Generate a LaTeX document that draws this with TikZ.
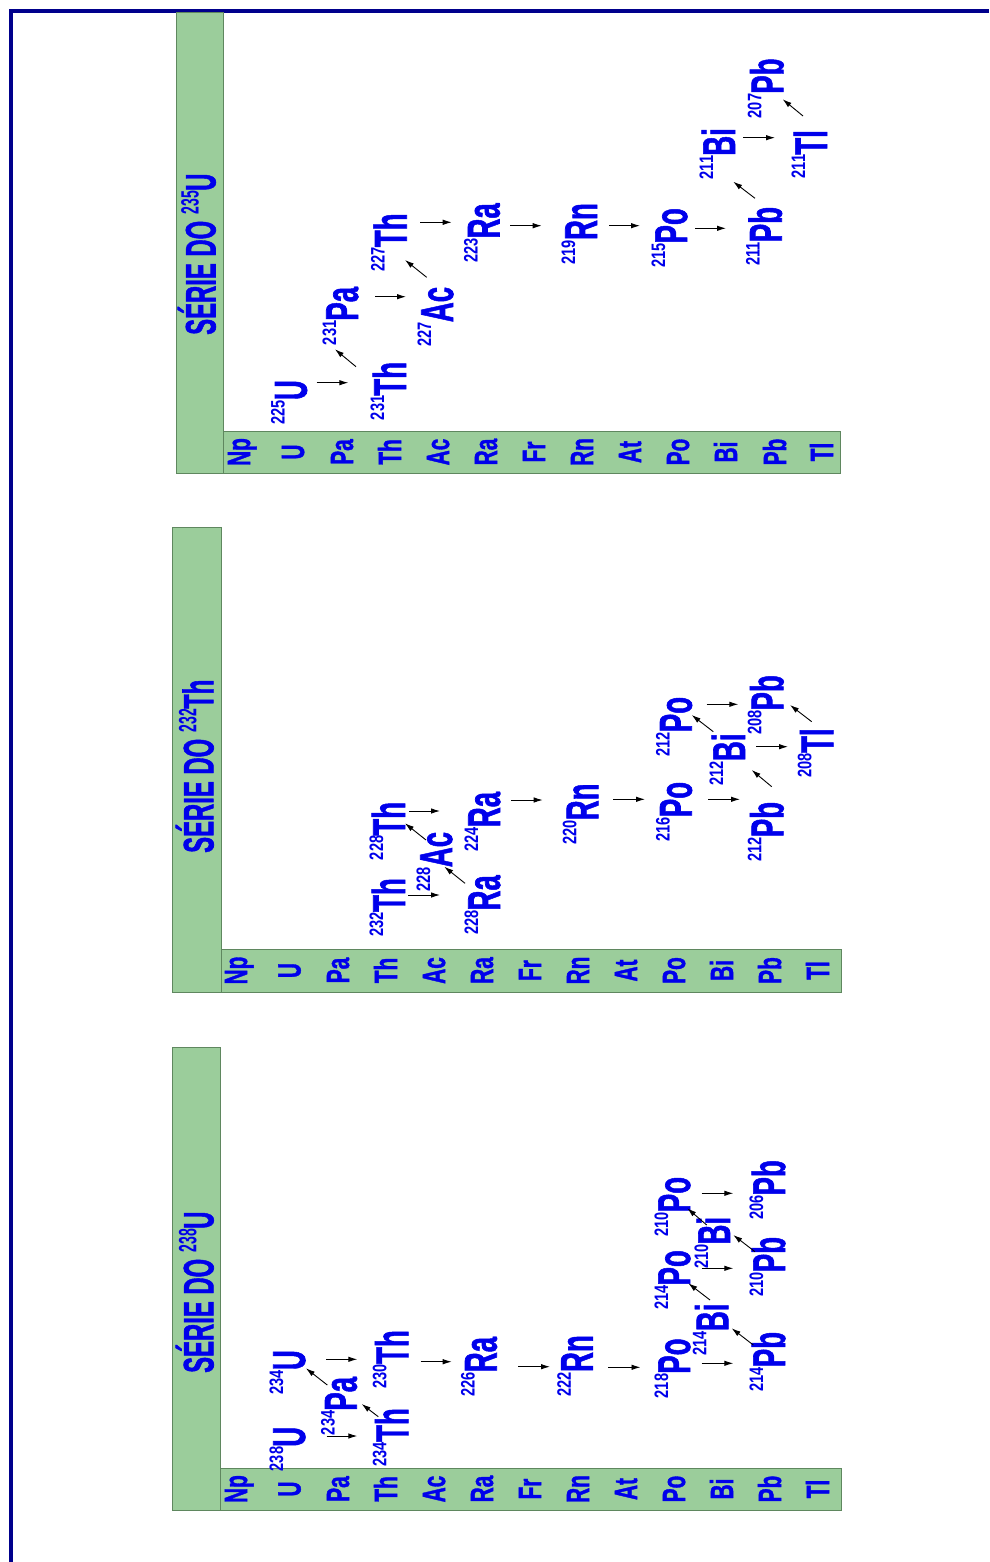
\documentclass[tikz,border=0pt]{standalone}
\usepackage{fontspec}
\setmainfont{Liberation Sans}[BoldFeatures={FakeBold=1.6}]
\newfontfamily\supfam{Liberation Sans}
\usetikzlibrary{arrows.meta,calc}
\definecolor{nblue}{RGB}{0,0,235}
\definecolor{frameblue}{RGB}{0,0,140}
\definecolor{barfill}{RGB}{155,205,155}
\definecolor{barline}{RGB}{95,135,95}
\newcommand\nucl[2]{\raisebox{22pt}{\scalebox{0.75}[1]{\supfam\bfseries\fontsize{19.5}{19.5}\selectfont #1}}\scalebox{0.6}[1]{\fontsize{46}{46}\selectfont #2}}
\newcommand\ttltext[2]{\scalebox{0.56}[1]{\fontsize{42.6}{42.6}\selectfont SÉRIE DO \raisebox{17pt}{\supfam\bfseries\fontsize{25}{25}\selectfont #1}#2}}
\newcommand\labtext[1]{\scalebox{0.65}[1]{\fontsize{32}{32}\selectfont #1}}
\tikzset{
 nuc/.style={rotate=90, anchor=base east, inner sep=0pt, text=nblue, font=\bfseries},
 lab/.style={rotate=90, anchor=base, inner sep=0pt, text=nblue, font=\bfseries},
 ttl/.style={rotate=90, anchor=base west, inner sep=0pt, text=nblue, font=\bfseries},
 bar/.style={fill=barfill, draw=barline, line width=1pt},
 arr/.style={draw=black, line width=0.9pt, -{Latex[length=9pt,width=5.5pt]}},
}
\newcommand\dk[4]{\draw[arr] ($(#1.base east)+(#2)$) -- ($(#3.base east)+(#4)$);}
\begin{document}
\begin{tikzpicture}[x=1pt,y=-1pt]
\useasboundingbox (0,0) rectangle (989,1562);
% frame
\draw[frameblue, line width=3.7pt] (10.8,1562) -- (10.8,10.8) -- (989,10.8);
% ---------- panel 1 : 235U ----------
\draw[bar] (176,13) rectangle (223,473);
\draw[bar] (223,431) rectangle (840,473);
\node[ttl] (t1) at (215.5,335) {\ttltext{235}{U}};
\foreach \e/\x [count=\i] in {Np/250,U/304,Pa/353,Th/401,Ac/449,Ra/497,Fr/545,Rn/593,At/641,Po/689,Bi/737,Pb/786,Tl/833}
  \node[lab] (p1l\i) at (\x,452) {\labtext{\e}};
\node[nuc] (p1U225) at (306.7,380) {\nucl{225}{U}};
\node[nuc] (p1Th231) at (406,361.7) {\nucl{231}{Th}};
\node[nuc] (p1Pa231) at (358,286.7) {\nucl{231}{Pa}};
\node[nuc] (p1Ac227) at (453,286.7) {\nucl{227}{Ac}};
\node[nuc] (p1Th227) at (406.7,213.3) {\nucl{227}{Th}};
\node[nuc] (p1Ra223) at (499.6,203) {\nucl{223}{Ra}};
\node[nuc] (p1Rn219) at (597,203) {\nucl{219}{Rn}};
\node[nuc] (p1Po215) at (687,208) {\nucl{215}{Po}};
\node[nuc] (p1Pb211) at (781.7,206.7) {\nucl{211}{Pb}};
\node[nuc] (p1Bi211) at (735,128) {\nucl{211}{Bi}};
\node[nuc] (p1Tl211) at (827,130) {\nucl{211}{Tl}};
\node[nuc] (p1Pb207) at (783.3,58.3) {\nucl{207}{Pb}};
\dk{p1U225}{10,2.7}{p1Th231}{-57.7,21}
\dk{p1Th231}{-50,5}{p1Pa231}{-23,62.6}
\dk{p1Pa231}{17,10}{p1Ac227}{-47,10}
\dk{p1Ac227}{-26.3,-9.4}{p1Th227}{-1.7,46.7}
\dk{p1Th227}{13.3,9}{p1Ra223}{-47.9,19.3}
\dk{p1Ra223}{10.4,22.7}{p1Rn219}{-55.3,22.7}
\dk{p1Rn219}{12,22.7}{p1Po215}{-47,17.7}
\dk{p1Po215}{8,20.3}{p1Pb211}{-55.7,21.6}
\dk{p1Pb211}{-26.7,-8.4}{p1Bi211}{-1.7,53.7}
\dk{p1Bi211}{8,9.7}{p1Tl211}{-52,7.7}
\dk{p1Tl211}{-24,-14}{p1Pb207}{-0.6,41}
% ---------- panel 2 : 232Th ----------
\draw[bar] (172,527.5) rectangle (221,992);
\draw[bar] (221,949) rectangle (841,992);
\node[ttl] (t2) at (213.4,853) {\ttltext{232}{Th}};
\foreach \e/\x [count=\i] in {Np/247,U/300.5,Pa/349,Th/397,Ac/445,Ra/493,Fr/541,Rn/589,At/637,Po/685,Bi/733,Pb/781,Tl/829}
  \node[lab] (p2l\i) at (\x,970.5) {\labtext{\e}};
\node[nuc] (p2Th232) at (405,878) {\nucl{232}{Th}};
\node[nuc] (p2Ra228) at (500,875) {\nucl{228}{Ra}};
\node[nuc] (p2Ac228) at (452,831.7) {\nucl{228}{Ac}};
\node[nuc] (p2Th228) at (405,801.7) {\nucl{228}{Th}};
\node[nuc] (p2Ra224) at (500,791.7) {\nucl{224}{Ra}};
\node[nuc] (p2Rn220) at (598.3,783.3) {\nucl{220}{Rn}};
\node[nuc] (p2Po216) at (691.7,781.7) {\nucl{216}{Po}};
\node[nuc] (p2Pb212) at (783.3,801.7) {\nucl{212}{Pb}};
\node[nuc] (p2Bi212) at (745,733.3) {\nucl{212}{Bi}};
\node[nuc] (p2Po212) at (691.7,696.7) {\nucl{212}{Po}};
\node[nuc] (p2Pb208) at (783.3,675) {\nucl{208}{Pb}};
\node[nuc] (p2Tl208) at (833.3,728.3) {\nucl{208}{Tl}};
\dk{p2Th232}{3,17}{p2Ra228}{-60,20}
\dk{p2Ra228}{-35,8.3}{p2Ac228}{-7.7,35}
\dk{p2Ac228}{-26,8.3}{p2Th228}{0,21.6}
\dk{p2Th228}{4,9.3}{p2Ra224}{-60,19.3}
\dk{p2Ra224}{11,8.3}{p2Rn220}{-55.6,16.7}
\dk{p2Rn220}{14.7,16}{p2Po216}{-46.7,17.6}
\dk{p2Po216}{16.3,17.6}{p2Pb212}{-43.3,-2.4}
\dk{p2Pb212}{-11.6,-15}{p2Bi212}{6.7,36.7}
\dk{p2Bi212}{-31.7,-1.6}{p2Po212}{0,18.3}
\dk{p2Bi212}{11,13.4}{p2Tl208}{-45.3,18.4}
\dk{p2Po212}{15,7.6}{p2Pb208}{-45,29.3}
\dk{p2Tl208}{-21.6,-6.6}{p2Pb208}{6.7,30}
% ---------- panel 3 : 238U ----------
\draw[bar] (172,1047) rectangle (220,1510);
\draw[bar] (220,1468) rectangle (841,1510);
\node[ttl] (t3) at (213.4,1373) {\ttltext{238}{U}};
\foreach \e/\x [count=\i] in {Np/247,U/300.5,Pa/349,Th/397,Ac/445,Ra/493,Fr/541,Rn/589,At/637,Po/685,Bi/733,Pb/781,Tl/829}
  \node[lab] (p3l\i) at (\x,1489) {\labtext{\e}};
\node[nuc] (p3U238) at (305,1426.7) {\nucl{238}{U}};
\node[nuc] (p3Th234) at (408.3,1408) {\nucl{234}{Th}};
\node[nuc] (p3Pa234) at (356.7,1376.7) {\nucl{234}{Pa}};
\node[nuc] (p3U234) at (305,1350) {\nucl{234}{U}};
\node[nuc] (p3Th230) at (408.3,1330) {\nucl{230}{Th}};
\node[nuc] (p3Ra226) at (496.7,1336.7) {\nucl{226}{Ra}};
\node[nuc] (p3Rn222) at (592.8,1335) {\nucl{222}{Rn}};
\node[nuc] (p3Po218) at (690,1338.3) {\nucl{218}{Po}};
\node[nuc] (p3Pb214) at (785,1331.7) {\nucl{214}{Pb}};
\node[nuc] (p3Bi214) at (728.3,1303.3) {\nucl{214}{Bi}};
\node[nuc] (p3Po214) at (690,1250) {\nucl{214}{Po}};
\node[nuc] (p3Pb210) at (785,1236.7) {\nucl{210}{Pb}};
\node[nuc] (p3Bi210) at (730,1216.7) {\nucl{210}{Bi}};
\node[nuc] (p3Po210) at (690,1176.7) {\nucl{210}{Po}};
\node[nuc] (p3Pb206) at (785,1160) {\nucl{206}{Pb}};
\dk{p3U238}{21.7,9.3}{p3Th234}{-51,28}
\dk{p3Th234}{-30,8.7}{p3Pa234}{5,27.3}
\dk{p3Pa234}{-29.4,8.3}{p3U234}{1,18.3}
\dk{p3U234}{21,9.3}{p3Th230}{-51,29.3}
\dk{p3Th230}{12.4,31.7}{p3Ra226}{-45,25}
\dk{p3Ra226}{21.3,30}{p3Rn222}{-42.8,31.7}
\dk{p3Rn222}{15.2,32.3}{p3Po218}{-49.5,29}
\dk{p3Po218}{11.7,25}{p3Pb214}{-51.7,31.6}
\dk{p3Pb214}{-31.7,13.3}{p3Bi214}{3.4,25}
\dk{p3Bi214}{-18.3,-3.3}{p3Po214}{-1.7,33.3}
\dk{p3Po214}{11.7,18.3}{p3Pb210}{-51.7,31.6}
\dk{p3Pb210}{-30,15}{p3Bi210}{3.3,18.3}
\dk{p3Bi210}{-23.3,8.3}{p3Po210}{-2.7,31.6}
\dk{p3Po210}{11.7,16.6}{p3Pb206}{-51.7,33.3}
\end{tikzpicture}
\end{document}
